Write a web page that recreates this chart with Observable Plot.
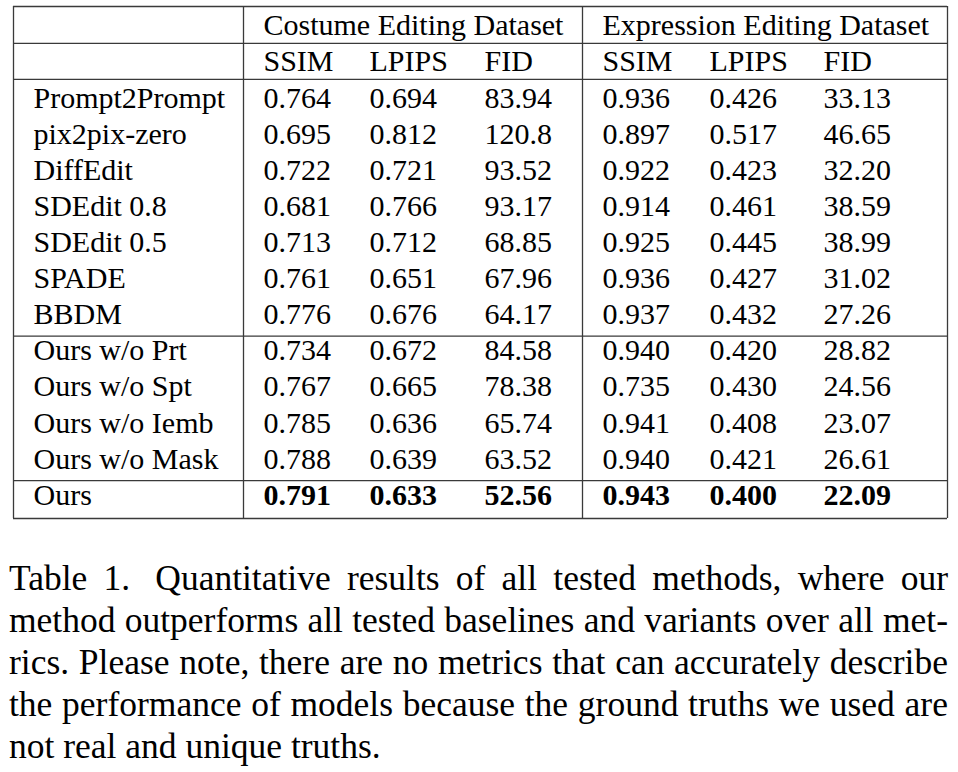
<!DOCTYPE html>
<html><head><meta charset="utf-8">
<script src="https://cdn.jsdelivr.net/npm/d3@7"></script>
<script src="https://cdn.jsdelivr.net/npm/@observablehq/plot@0.6"></script>
<style>
html,body{margin:0;padding:0;background:#fff;}
#chart svg{display:block}
#caption{font-family:"Liberation Serif","Times New Roman",serif;font-size:35.5px;line-height:42px;color:#000;margin-left:9px;width:939px;}
.line{display:flex;justify-content:space-between;white-space:nowrap;}
.line.last{display:block;}
</style></head>
<body><div id="chart"></div><div id="caption"></div>
<script>
// ---- data ----
const datasets = ["Costume Editing Dataset", "Expression Editing Dataset"];
const metrics = ["SSIM", "LPIPS", "FID"];
const methods = ["Prompt2Prompt","pix2pix-zero","DiffEdit","SDEdit 0.8","SDEdit 0.5","SPADE","BBDM",
  "Ours w/o Prt","Ours w/o Spt","Ours w/o Iemb","Ours w/o Mask","Ours"];
const groupSizes = [7, 4, 1]; // baselines, variants, ours
const costumeSSIM  = [0.764,0.695,0.722,0.681,0.713,0.761,0.776,0.734,0.767,0.785,0.788,0.791];
const costumeLPIPS = [0.694,0.812,0.721,0.766,0.712,0.651,0.676,0.672,0.665,0.636,0.639,0.633];
const costumeFID   = [83.94,120.8,93.52,93.17,68.85,67.96,64.17,84.58,78.38,65.74,63.52,52.56];
const exprSSIM     = [0.936,0.897,0.922,0.914,0.925,0.936,0.937,0.940,0.735,0.941,0.940,0.943];
const exprLPIPS    = [0.426,0.517,0.423,0.461,0.445,0.427,0.432,0.420,0.430,0.408,0.421,0.400];
const exprFID      = [33.13,46.65,32.20,38.59,38.99,31.02,27.26,28.82,24.56,23.07,26.61,22.09];
const boldMethod = "Ours";
const captionLines = [
  "Table 1.\u00a0 Quantitative results of all tested methods, where our",
  "method outperforms all tested baselines and variants over all met-",
  "rics. Please note, there are no metrics that can accurately describe",
  "the performance of models because the ground truths we used are",
  "not real and unique truths."
];

// ---- layout ----
const W = 958, H = 557;
const font = "Liberation Serif, Times New Roman, serif";
const tableLeft = 13, pad = 20;
const colWidths = [230, 106, 115, 118, 107, 114, 144];
const colLeft = []; let acc = tableLeft;
colWidths.forEach(w => { colLeft.push(acc); acc += w; });
const tableRight = acc;
const yTop = -0.8, yBottom = 13.38;

const series = [costumeSSIM, costumeLPIPS, costumeFID, exprSSIM, exprLPIPS, exprFID];
const fmt = (v, j) => (j % 3 === 2) ? v.toPrecision(4) : v.toFixed(3);

const cells = [];
datasets.forEach((d, k) => cells.push({x: colLeft[1 + 3 * k] + pad, row: 0, text: d, bold: false}));
[0, 1].forEach(k => metrics.forEach((m, j) => cells.push({x: colLeft[1 + 3 * k + j] + pad, row: 1, text: m, bold: false})));
methods.forEach((m, i) => {
  cells.push({x: colLeft[0] + pad, row: i + 2, text: m, bold: false});
  series.forEach((s, j) => cells.push({x: colLeft[1 + j] + pad, row: i + 2, text: fmt(s[i], j), bold: m === boldMethod}));
});

// horizontal rules
const hLines = [yTop, 0.22, 1.22];
let r = 1;
groupSizes.slice(0, -1).forEach(g => { r += g; hLines.push(r + 0.33); });
hLines.push(yBottom);
const vLines = [colLeft[0], colLeft[1], colLeft[4], tableRight];

const chart = Plot.plot({
  width: W, height: H,
  margin: 0,
  x: {type: "linear", domain: [0, W], range: [0, W], axis: null},
  y: {type: "linear", domain: [yTop, yBottom], range: [6, 518], axis: null},
  marks: [
    Plot.ruleY(hLines, {y: d => d, x1: tableLeft, x2: tableRight, stroke: "#3a3a3a", strokeWidth: 1.3}),
    Plot.ruleX(vLines, {x: d => d, y1: yTop, y2: yBottom, stroke: "#3a3a3a", strokeWidth: 1.3}),
    Plot.text(cells.filter(d => !d.bold), {x: "x", y: "row", text: "text", textAnchor: "start", lineAnchor: "bottom",
      fontFamily: font, fontSize: 30, fill: "#000"}),
    Plot.text(cells.filter(d => d.bold), {x: "x", y: "row", text: "text", textAnchor: "start", lineAnchor: "bottom",
      fontFamily: font, fontSize: 30, fontWeight: "bold", fill: "#000"})
  ]
});
document.getElementById("chart").appendChild(chart);

// caption
const cap = document.getElementById("caption");
captionLines.forEach((t, i) => {
  const div = document.createElement("div");
  if (i === captionLines.length - 1) {
    div.className = "line last";
    div.textContent = t;
  } else {
    div.className = "line";
    t.split(" ").forEach(w => {
      const s = document.createElement("span");
      s.textContent = w;
      div.appendChild(s);
    });
  }
  cap.appendChild(div);
});
</script></body></html>
